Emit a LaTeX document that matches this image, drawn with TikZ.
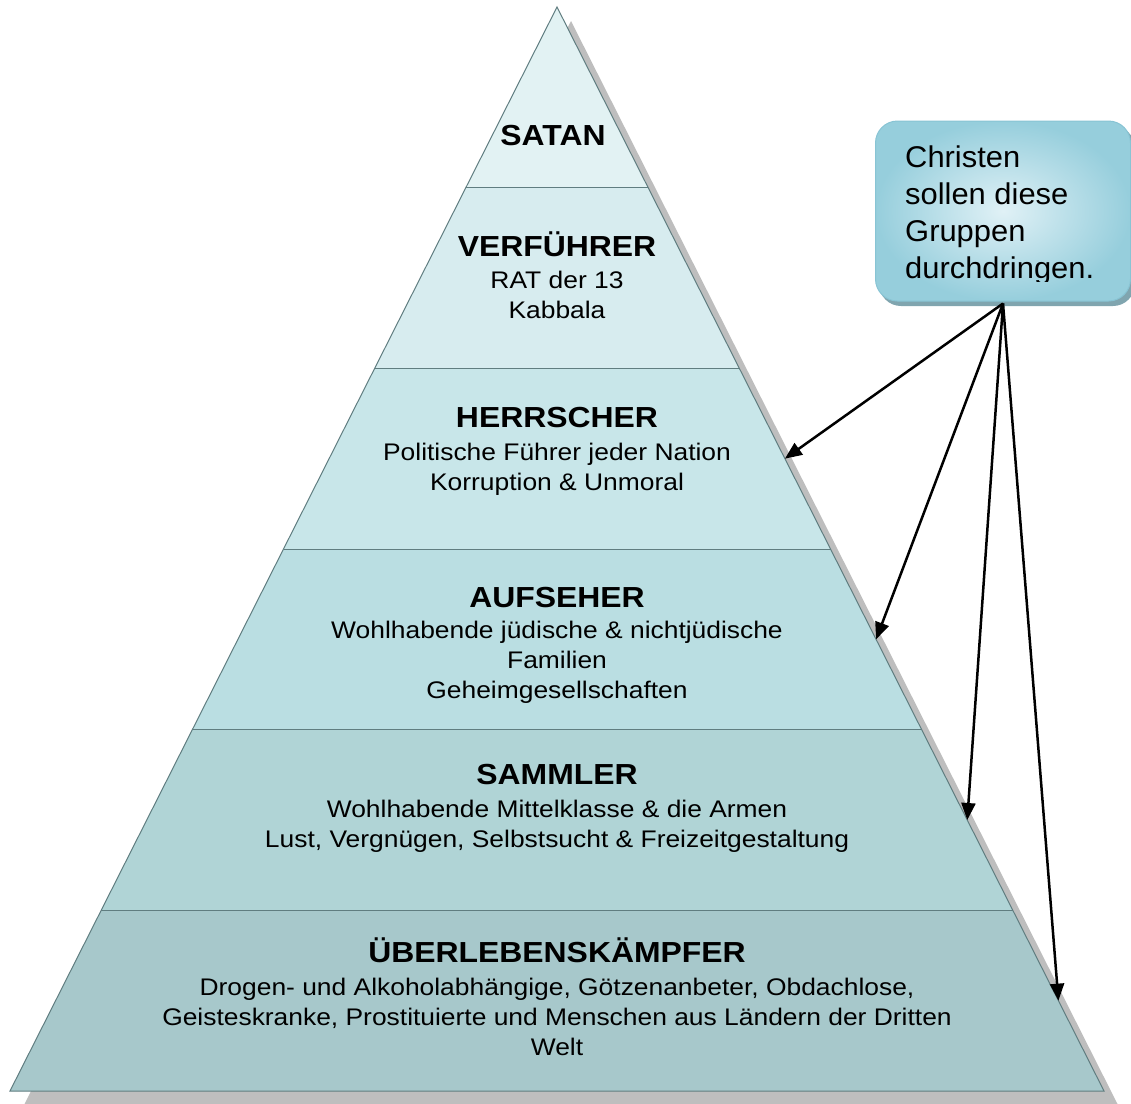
\documentclass[tikz,border=0pt]{standalone}
\usepackage{fontspec}
\setmainfont{Liberation Sans}[FakeStretch=1.1]
\newfontfamily\calloutfont{Liberation Sans}[FakeStretch=1.03]
\usetikzlibrary{arrows.meta,calc}
\definecolor{layA}{RGB}{226,242,243}
\definecolor{layB}{RGB}{215,236,239}
\definecolor{layC}{RGB}{200,230,233}
\definecolor{layD}{RGB}{186,222,226}
\definecolor{layE}{RGB}{176,212,214}
\definecolor{layF}{RGB}{167,200,203}
\definecolor{pyrline}{RGB}{96,125,128}
\definecolor{shadowgray}{RGB}{190,190,190}
\definecolor{calloutin}{RGB}{224,241,246}
\definecolor{calloutout}{RGB}{150,206,220}
\definecolor{calloutedge}{RGB}{136,196,212}
\definecolor{calloutshadow}{RGB}{128,165,175}
\begin{document}
\begin{tikzpicture}[x=1pt,y=-1pt,
  edge/.style={draw=pyrline,line width=1pt},
  layertext/.style={align=center,anchor=base,inner sep=0pt,font=\fontsize{24}{30}\selectfont},
  arr/.style={line width=2.5pt,-{Triangle[length=17pt,width=14pt]}},
  calloutbox/.style={rounded corners=22pt,inner color=calloutin,outer color=calloutout,draw=calloutedge,line width=1pt,minimum width=255pt,minimum height=180pt,inner sep=0pt},
  ctext/.style={align=left,anchor=base west,inner sep=0pt,font=\calloutfont\fontsize{30}{37}\selectfont}]
\newcommand{\lttl}[1]{{\fontsize{29}{33}\selectfont\bfseries #1}}
\useasboundingbox (0,0) rectangle (1131,1103);
\coordinate (A) at (557,7);
\coordinate (L) at (10,1091);
\coordinate (R) at (1104,1091);
% shadow of the pyramid
\begin{scope}
  \clip (0,0) rectangle (1131,1103);
  \fill[shadowgray] ($(A)+(14,14)$) -- ($(L)+(14,14)$) -- ($(R)+(14,14)$) -- cycle;
\end{scope}
% layer boundaries on the edges
\coordinate (l0) at (A);
\coordinate (r0) at (A);
\foreach \k in {1,...,6} {
  \coordinate (l\k) at ($(A)!\k/6!(L)$);
  \coordinate (r\k) at ($(A)!\k/6!(R)$);
}
% layer fills
\fill[layA] (l0) -- (l1) -- (r1) -- cycle;
\fill[layB] (l1) -- (l2) -- (r2) -- (r1) -- cycle;
\fill[layC] (l2) -- (l3) -- (r3) -- (r2) -- cycle;
\fill[layD] (l3) -- (l4) -- (r4) -- (r3) -- cycle;
\fill[layE] (l4) -- (l5) -- (r5) -- (r4) -- cycle;
\fill[layF] (l5) -- (l6) -- (r6) -- (r5) -- cycle;
% outlines
\draw[edge] (A) -- (L) -- (R) -- cycle;
\foreach \k in {1,...,5} { \draw[edge] (l\k) -- (r\k); }
% texts (anchor base = baseline of the last line)
\node[layertext] (satan) at (553,145) {\lttl{SATAN}};
\node[layertext] (verf) at (557,318) {\lttl{VERFÜHRER}\\[2pt]RAT der 13\\Kabbala};
\node[layertext] (herr) at (557,490) {\lttl{HERRSCHER}\\[3pt]Politische Führer jeder Nation\\Korruption \& Unmoral};
\node[layertext] (aufs) at (557,698) {\lttl{AUFSEHER}\\[1pt]Wohlhabende jüdische \& nichtjüdische\\Familien\\Geheimgesellschaften};
\node[layertext] (samm) at (557,847) {\lttl{SAMMLER}\\[3pt]Wohlhabende Mittelklasse \& die Armen\\Lust, Vergnügen, Selbstsucht \& Freizeitgestaltung};
\node[layertext] (uber) at (557,1055) {\lttl{ÜBERLEBENSKÄMPFER}\\[3pt]Drogen- und Alkoholabhängige, Götzenanbeter, Obdachlose,\\Geisteskranke, Prostituierte und Menschen aus Ländern der Dritten\\Welt};
% callout
\fill[calloutshadow,rounded corners=22pt] (879,126) rectangle (1135,306);
\node[calloutbox] (box) at (1003,211) {};
\begin{scope}
  \clip (870,115) rectangle (1131,281);
  \node[ctext] (ctxt) at (905,278) {Christen\\sollen diese\\Gruppen\\durchdringen.};
\end{scope}
% arrows
\coordinate (src) at ($(box.south)+(0,2)$);
\coordinate (m3) at ($(A)!2.5/6!(R)$);
\coordinate (m4) at ($(A)!3.5/6!(R)$);
\coordinate (m5) at ($(A)!4.5/6!(R)$);
\coordinate (m6) at ($(A)!5.5/6!(R)$);
\draw[arr] (src) -- (m3);
\draw[arr] (src) -- (m4);
\draw[arr] (src) -- (m5);
\draw[arr] (src) -- (m6);
\end{tikzpicture}
\end{document}
